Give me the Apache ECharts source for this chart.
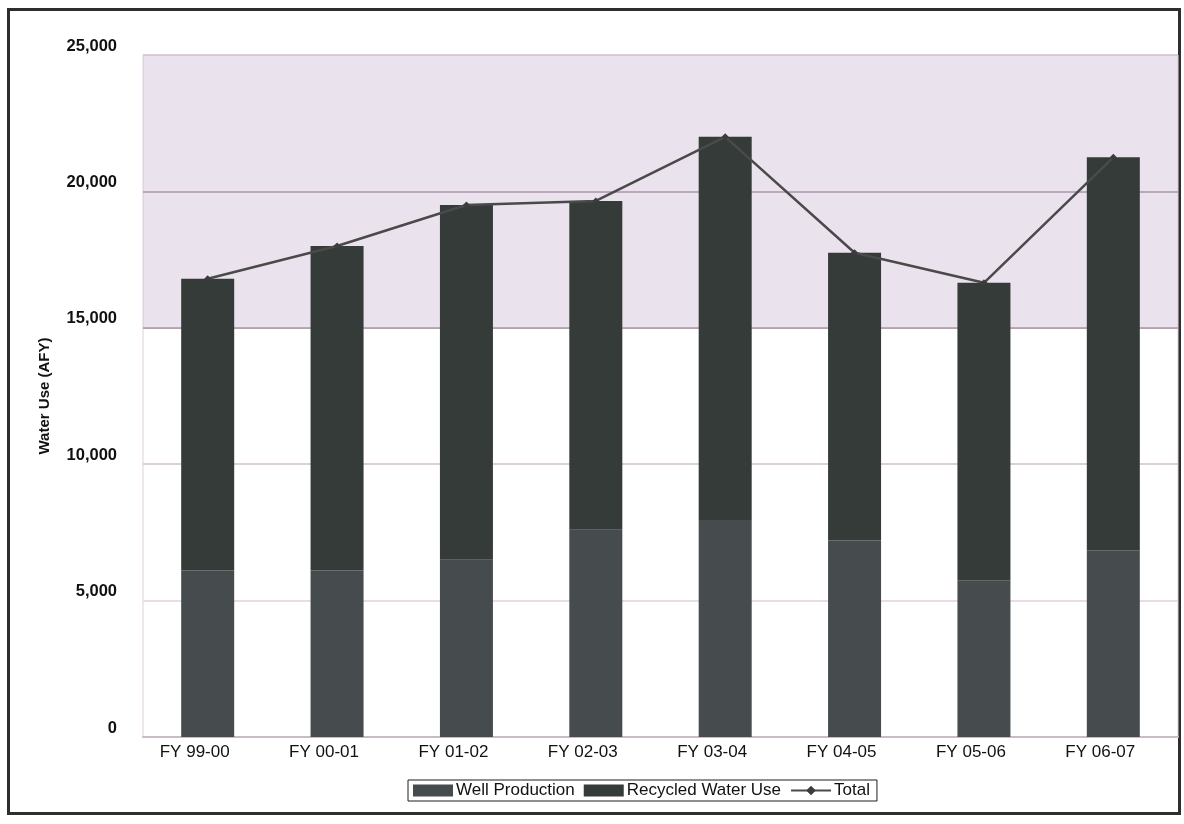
<!DOCTYPE html>
<html>
<head>
<meta charset="utf-8">
<style>
  html, body { margin: 0; padding: 0; background: #ffffff; }
  #frame {
    position: absolute; left: 7px; top: 8px; width: 1168px; height: 801px;
    border: 3px solid #2e2e2e; box-sizing: content-box;
  }
  #chart { position: absolute; left: 0; top: 0; width: 1184px; height: 824px; }
</style>
<script src="https://cdn.jsdelivr.net/npm/echarts@6/dist/echarts.min.js"></script>
</head>
<body>
<div id="frame"></div>
<div id="chart"></div>
<script>
// Fiscal years shown along the x axis
const fiscalYears = ['FY 99-00', 'FY 00-01', 'FY 01-02', 'FY 02-03', 'FY 03-04', 'FY 04-05', 'FY 05-06', 'FY 06-07'];

// Annual water use, acre-feet per year
const wellProduction   = [6100, 6100, 6500, 7600, 7950, 7200, 5750, 6850];
const recycledWaterUse = [10700, 11900, 13000, 12050, 14050, 10550, 10900, 14400];
const totalUse         = [16800, 18000, 19500, 19650, 22000, 17750, 16650, 21250];

// Y axis range and step
const yMin = 0, yMax = 25000, yStep = 5000;

const FONT = '"Liberation Sans", Arial, sans-serif';

const chart = echarts.init(document.getElementById('chart'), null, { renderer: 'canvas' });

chart.setOption({
  animation: false,
  backgroundColor: 'transparent',
  textStyle: { fontFamily: FONT },
  grid: {
    left: 143, right: 6, top: 55, bottom: 87,
    show: true, borderColor: '#ddd0db', borderWidth: 1, backgroundColor: 'transparent'
  },
  legend: {
    left: 408, top: 780,
    itemWidth: 40, itemHeight: 12, itemGap: 9,
    padding: [2, 7, 2, 5],
    borderColor: '#1e1e1e', borderWidth: 1,
    textStyle: { fontFamily: FONT, fontSize: 17, color: '#111', padding: [0, 0, 0, -2] },
    data: [
      { name: 'Well Production', icon: 'rect' },
      { name: 'Recycled Water Use', icon: 'rect' },
      { name: 'Total' }
    ]
  },
  xAxis: {
    type: 'category',
    data: fiscalYears,
    axisLine: { show: true, lineStyle: { color: '#c9bcc6', width: 2 } },
    axisTick: { show: false },
    axisLabel: {
      margin: 7,
      formatter: v => '{t|' + v + '}',
      rich: { t: { color: '#111', fontSize: 17, fontFamily: FONT, padding: [0, 26, 0, 0] } }
    },
    splitLine: { show: false }
  },
  yAxis: {
    type: 'value',
    min: yMin, max: yMax, interval: yStep,
    name: 'Water Use (AFY)',
    nameLocation: 'middle',
    nameGap: 91,
    nameRotate: 90,
    nameTextStyle: { color: '#111', fontSize: 15, fontWeight: 'bold', fontFamily: FONT },
    axisLine: { show: false },
    axisTick: { show: false },
    axisLabel: {
      margin: 26,
      formatter: v => '{t|' + v.toLocaleString('en-US') + '}',
      rich: { t: { color: '#111', fontSize: 16.5, fontWeight: 'bold', fontFamily: FONT, padding: [0, 0, 18, 0] } }
    },
    splitLine: {
      show: true,
      lineStyle: {
        width: 1.8,
        color: ['#d0c2cc', '#e8dde6', '#dccfd9', '#b5a1b1', '#b09caa', '#ddd0da']
      }
    }
  },
  series: [
    {
      name: 'Well Production',
      type: 'bar',
      stack: 'use',
      data: wellProduction,
      barWidth: 53,
      itemStyle: { color: '#464b4e' },
      markArea: {
        silent: true,
        itemStyle: { color: 'rgba(205, 185, 210, 0.42)' },
        data: [[{ yAxis: 15000 }, { yAxis: 25000 }]]
      },
      z: 2
    },
    {
      name: 'Recycled Water Use',
      type: 'bar',
      stack: 'use',
      data: recycledWaterUse,
      barWidth: 53,
      itemStyle: { color: '#343b38' },
      z: 3
    },
    {
      name: 'Total',
      type: 'line',
      data: totalUse,
      symbol: 'diamond',
      symbolSize: 7,
      itemStyle: { color: '#3c3c3c' },
      lineStyle: { color: '#4a4a4a', width: 2.5 },
      z: 5
    }
  ]
});
</script>
</body>
</html>
